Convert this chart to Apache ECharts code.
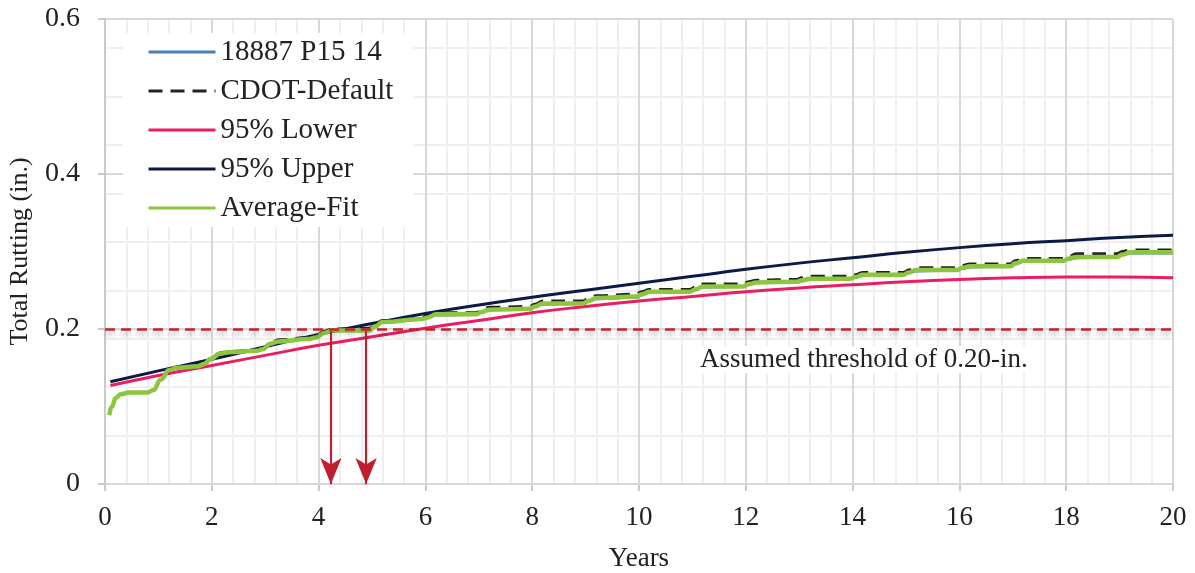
<!DOCTYPE html>
<html>
<head>
<meta charset="utf-8">
<script src="https://cdn.jsdelivr.net/npm/echarts/dist/echarts.min.js"></script>
<style>
  html, body { margin: 0; padding: 0; background: #fff; }
  #chart { width: 1195px; height: 573px; }
</style>
</head>
<body>
<div id="chart"></div>
<script>
// values
const xTicks = [0, 2, 4, 6, 8, 10, 12, 14, 16, 18, 20];
const yTicks = [0, 0.2, 0.4, 0.6];

const boundYears = [0.1, 1, 2, 3, 4, 5, 6, 7, 8, 9, 10, 11, 12, 13, 14, 15, 16, 17, 18, 19, 20];
const upper95 = [0.132, 0.146, 0.161, 0.177, 0.193, 0.207, 0.220, 0.231, 0.241, 0.250, 0.259,
                 0.268, 0.277, 0.285, 0.292, 0.299, 0.305, 0.310, 0.314, 0.318, 0.321];
const lower95 = [0.127, 0.140, 0.153, 0.166, 0.179, 0.190, 0.201, 0.211, 0.221, 0.229, 0.236,
                 0.242, 0.248, 0.253, 0.257, 0.261, 0.264, 0.266, 0.267, 0.267, 0.266];

const averageFit = [
  [0.08, 0.089], [0.13, 0.100], [0.2, 0.111], [0.3, 0.116], [0.45, 0.118], [0.8, 0.118],
  [0.9, 0.121], [1.05, 0.135], [1.2, 0.147], [1.35, 0.150], [1.75, 0.152], [1.85, 0.155],
  [2.0, 0.162], [2.15, 0.168], [2.3, 0.170], [2.85, 0.172], [2.95, 0.174], [3.1, 0.181],
  [3.25, 0.184], [3.8, 0.187], [3.95, 0.189], [4.1, 0.195], [4.25, 0.198], [4.95, 0.198],
  [5.05, 0.203], [5.2, 0.209], [5.95, 0.213], [6.05, 0.215], [6.2, 0.219], [6.95, 0.219],
  [7.05, 0.222], [7.2, 0.225], [7.95, 0.226], [8.05, 0.229], [8.2, 0.233], [8.95, 0.233],
  [9.05, 0.236], [9.2, 0.240], [9.95, 0.242], [10.05, 0.245], [10.2, 0.248], [10.95, 0.248],
  [11.05, 0.251], [11.2, 0.255], [11.95, 0.255], [12.05, 0.258], [12.2, 0.260], [12.95, 0.261],
  [13.05, 0.263], [13.2, 0.265], [13.95, 0.265], [14.05, 0.267], [14.2, 0.270], [14.95, 0.270],
  [15.05, 0.273], [15.2, 0.276], [15.95, 0.276], [16.05, 0.279], [16.2, 0.281], [16.95, 0.281],
  [17.05, 0.285], [17.2, 0.288], [17.95, 0.288], [18.05, 0.291], [18.2, 0.293], [18.95, 0.293],
  [19.05, 0.296], [19.2, 0.299], [20, 0.299]
];

const measured = [
  [0.08, 0.089], [0.13, 0.100], [0.2, 0.111], [0.3, 0.116], [0.45, 0.118], [0.8, 0.118],
  [0.9, 0.121], [1.05, 0.135], [1.2, 0.147], [1.35, 0.150], [1.75, 0.152], [1.85, 0.155],
  [2.0, 0.162], [2.15, 0.168], [2.3, 0.170], [2.85, 0.172], [2.95, 0.174], [3.1, 0.181],
  [3.25, 0.184], [3.8, 0.187], [3.95, 0.189], [4.1, 0.195], [4.25, 0.198], [4.95, 0.198],
  [5.05, 0.203], [5.2, 0.209], [5.95, 0.213], [6.05, 0.215], [6.2, 0.218], [6.95, 0.219],
  [7.05, 0.222], [7.2, 0.225], [7.95, 0.226], [8.05, 0.229], [8.2, 0.232], [8.95, 0.233],
  [9.05, 0.236], [9.2, 0.239], [9.95, 0.241], [10.05, 0.244], [10.2, 0.247], [10.95, 0.248],
  [11.05, 0.251], [11.2, 0.254], [11.95, 0.255], [12.05, 0.257], [12.2, 0.260], [12.95, 0.260],
  [13.05, 0.262], [13.2, 0.264], [13.95, 0.265], [14.05, 0.267], [14.2, 0.269], [14.95, 0.270],
  [15.05, 0.273], [15.2, 0.275], [15.95, 0.276], [16.05, 0.278], [16.2, 0.280], [16.95, 0.281],
  [17.05, 0.284], [17.2, 0.287], [17.95, 0.288], [18.05, 0.290], [18.2, 0.292], [18.95, 0.293],
  [19.05, 0.296], [19.2, 0.298], [20, 0.298]
];

const cdotDefault = [
  [0.08, 0.089], [0.13, 0.100], [0.2, 0.111], [0.3, 0.116], [0.45, 0.118], [0.8, 0.118],
  [0.9, 0.121], [1.05, 0.135], [1.2, 0.148], [1.35, 0.151], [1.75, 0.153], [1.85, 0.156],
  [2.0, 0.163], [2.15, 0.169], [2.3, 0.171], [2.85, 0.173], [2.95, 0.175], [3.1, 0.182],
  [3.25, 0.186], [3.8, 0.189], [3.95, 0.191], [4.1, 0.197], [4.25, 0.200], [4.95, 0.201],
  [5.05, 0.206], [5.2, 0.211], [5.95, 0.215], [6.05, 0.218], [6.2, 0.221], [6.95, 0.221],
  [7.05, 0.224], [7.2, 0.228], [7.95, 0.229], [8.05, 0.232], [8.2, 0.236], [8.95, 0.236],
  [9.05, 0.239], [9.2, 0.243], [9.95, 0.245], [10.05, 0.248], [10.2, 0.251], [10.95, 0.251],
  [11.05, 0.254], [11.2, 0.258], [11.95, 0.258], [12.05, 0.261], [12.2, 0.263], [12.95, 0.264],
  [13.05, 0.266], [13.2, 0.268], [13.95, 0.268], [14.05, 0.270], [14.2, 0.273], [14.95, 0.273],
  [15.05, 0.276], [15.2, 0.279], [15.95, 0.279], [16.05, 0.282], [16.2, 0.284], [16.95, 0.284],
  [17.05, 0.288], [17.2, 0.291], [17.95, 0.291], [18.05, 0.294], [18.2, 0.297], [18.95, 0.297],
  [19.05, 0.300], [19.2, 0.302], [20, 0.302]
];

const threshold = 0.197;
const arrowYears = [4.23, 4.89];

const serif = '"Liberation Serif", "DejaVu Serif", serif';
const chart = echarts.init(document.getElementById('chart'));

const pair = (xs, ys) => xs.map((x, i) => [x, ys[i]]);

chart.setOption({
  animation: false,
  backgroundColor: '#fff',
  grid: { left: 105, right: 22, top: 19, bottom: 89, outerBoundsMode: 'none', containLabel: false },
  legend: {
    orient: 'vertical',
    left: 123,
    top: 33,
    padding: [4, 20, 4, 24],
    backgroundColor: '#fff',
    itemWidth: 67,
    itemHeight: 14,
    itemGap: 9,
    itemStyle: { opacity: 0 },
    lineStyle: { width: 3 },
    textStyle: { fontFamily: serif, fontSize: 29, color: '#222', lineHeight: 30 },
    data: ['18887 P15 14', 'CDOT-Default', '95% Lower', '95% Upper', 'Average-Fit']
  },
  xAxis: {
    type: 'value',
    min: 0,
    max: 20,
    interval: 2,
    name: 'Years',
    nameLocation: 'middle',
    nameGap: 61,
    nameTextStyle: { fontFamily: serif, fontSize: 27, color: '#222' },
    axisLine: { lineStyle: { color: '#c9c9cc', width: 2 } },
    axisTick: { show: true, length: 7, lineStyle: { color: '#c9c9cc', width: 2 } },
    axisLabel: {
      margin: 20, fontFamily: serif, fontSize: 27, color: '#222',
      formatter: v => xTicks.includes(v) ? String(v) : ''
    },
    splitLine: { lineStyle: { color: '#d8d8db', width: 2 } },
    minorTick: { show: true, splitNumber: 5, length: 0 },
    minorSplitLine: { show: true, lineStyle: { color: '#efeff1', width: 2 } }
  },
  yAxis: [{
    type: 'value',
    min: 0,
    max: 0.6,
    interval: 0.2,
    z: 1,
    name: 'Total Rutting (in.)',
    nameLocation: 'middle',
    nameGap: 72,
    nameTextStyle: { fontFamily: serif, fontSize: 26, color: '#222' },
    axisLine: { show: true, lineStyle: { color: '#c9c9cc', width: 2 } },
    axisTick: { show: true, length: 7, lineStyle: { color: '#c9c9cc', width: 2 } },
    axisLabel: {
      margin: 25, fontFamily: serif, fontSize: 28, color: '#222',
      formatter: v => yTicks.includes(+v.toFixed(2)) ? String(+v.toFixed(2)) : ''
    },
    splitLine: { lineStyle: { color: '#d8d8db', width: 2 } }
  }, {
    type: 'value',
    min: 0,
    max: 0.6,
    interval: 0.0625,
    position: 'left',
    z: 0,
    axisLine: { show: false },
    axisTick: { show: false },
    axisLabel: { show: false },
    splitLine: { lineStyle: { color: '#efeff1', width: 2 } }
  }],
  graphic: [{
    type: 'text',
    left: 700,
    top: 346,
    z: 10,
    style: {
      text: 'Assumed threshold of 0.20-in.',
      font: '27px ' + serif,
      fill: '#222',
      backgroundColor: '#fff'
    }
  }],
  series: [{
    name: '18887 P15 14',
    type: 'line',
    data: measured,
    showSymbol: false,
    symbol: 'none',
    smooth: 0.5,
    smoothMonotone: 'x',
    color: '#4a7ebb',
    lineStyle: { color: '#4a7ebb', width: 3 }
  }, {
    name: 'CDOT-Default',
    type: 'line',
    data: cdotDefault,
    showSymbol: false,
    symbol: 'none',
    smooth: 0.5,
    smoothMonotone: 'x',
    color: '#222',
    lineStyle: { color: '#222', width: 3, type: [14, 8] }
  }, {
    name: '95% Lower',
    type: 'line',
    data: pair(boundYears, lower95),
    showSymbol: false,
    symbol: 'none',
    smooth: true,
    color: '#ea1d63',
    lineStyle: { color: '#ea1d63', width: 3 },
    markLine: {
      silent: true,
      symbol: ['none', 'none'],
      label: { show: false },
      lineStyle: {
        color: '#c8202b', width: 2.5, type: [10, 6],
        shadowColor: 'rgba(0,0,0,0.3)', shadowBlur: 5, shadowOffsetY: 4
      },
      data: [{ yAxis: threshold }]
    }
  }, {
    name: '95% Upper',
    type: 'line',
    data: pair(boundYears, upper95),
    showSymbol: false,
    symbol: 'none',
    smooth: true,
    color: '#0c1b45',
    lineStyle: { color: '#0c1b45', width: 3 },
    markLine: {
      silent: true,
      symbol: ['none', 'arrow'],
      symbolSize: [16, 26],
      label: { show: false },
      lineStyle: {
        color: '#be1e2d', width: 2, type: 'solid',
        shadowColor: 'rgba(0,0,0,0.2)', shadowBlur: 3, shadowOffsetY: 2
      },
      data: arrowYears.map(x => [{ coord: [x, threshold] }, { coord: [x, 0] }])
    }
  }, {
    name: 'Average-Fit',
    type: 'line',
    data: averageFit,
    showSymbol: false,
    symbol: 'none',
    smooth: 0.5,
    smoothMonotone: 'x',
    color: '#8cc63f',
    lineStyle: { color: '#8cc63f', width: 4.5 }
  }]
});
</script>
</body>
</html>
